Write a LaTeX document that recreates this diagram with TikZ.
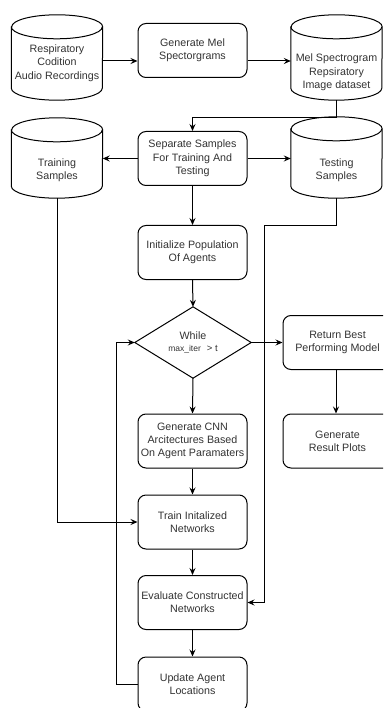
\documentclass[tikz,border=0pt]{standalone}
\usepackage{fontspec}
\setmainfont{Liberation Sans}
\usetikzlibrary{calc,arrows.meta}
\definecolor{txtc}{HTML}{333333}
\newcommand\drawcyl[1]{%
  \draw[line width=1pt, fill=white] ($(#1.north west)+(0,-12)$) -- ($(#1.south west)+(0,12)$)
    arc[start angle=180,end angle=360,x radius=45.5pt,y radius=12pt]
    -- ($(#1.north east)+(0,-12)$)
    arc[start angle=0,end angle=180,x radius=45.5pt,y radius=12pt] -- cycle;
  \draw[line width=1pt] ($(#1.north west)+(0,-12)$)
    arc[start angle=180,end angle=360,x radius=45.5pt,y radius=12pt];
}
\begin{document}
\begin{tikzpicture}[x=1pt,y=1pt,
  font=\fontsize{10.7}{13.3}\selectfont,
  box/.style={draw, line width=1pt, rounded corners=8pt, minimum width=109pt,
    minimum height=54pt, align=center, fill=white, text=txtc, inner sep=1pt},
  cylbody/.style={minimum width=91pt, inner sep=0pt, draw=none},
  lbl/.style={align=center, text=txtc, inner sep=0pt},
  conn/.style={line width=1pt, -{Stealth[length=7pt,width=6pt,inset=2.5pt]}}
]
\useasboundingbox (0,0) rectangle (383,-708);
\clip (0,0) rectangle (383,-708);

% top row
\node[cylbody, minimum height=85pt] (c1) at (57,-57.5) {};
\drawcyl{c1}
\node[lbl] (c1t) at (57,-63) {Respiratory\\Codition\\Audio Recordings};

\node[box] (gen) at (192.5,-50.5) {Generate Mel\\Spectorgrams};

\node[cylbody, minimum height=85pt] (c3) at (336.5,-57.5) {};
\drawcyl{c3}
\node[lbl] (c3t) at (336.5,-72.5) {Mel Spectrogram\\Repsiratory\\Image dataset};

% second row
\node[box] (sep) at (192.5,-158.5) {Separate Samples\\For Training And\\Testing};

\node[cylbody, minimum height=80pt] (tr) at (57,-158) {};
\drawcyl{tr}
\node[lbl] (trt) at (57,-170) {Training\\Samples};

\node[cylbody, minimum height=81pt] (te) at (336.5,-157.5) {};
\drawcyl{te}
\node[lbl] (tet) at (336.5,-170) {Testing\\Samples};

\node[box] (init) at (192.5,-252.5) {Initialize Population\\Of Agents};

% diamond
\node[lbl, minimum width=116pt, minimum height=71pt] (dia) at (193,-342.5)
  {While\\[-1pt]{\fontsize{8.5}{10}\selectfont max\_iter\hspace{6pt}{\fontsize{9.5}{10}\selectfont > t}}};
\draw[line width=1pt] (dia.north) -- (dia.east) -- (dia.south) -- (dia.west) -- cycle;

\node[box] (ret) at (337.5,-342.5) {Return Best\\Performing Model};
\node[box] (res) at (337.5,-441) {Generate\\Result Plots};

\node[box] (cnn) at (192.5,-441) {Generate CNN\\Arcitectures Based\\On Agent Paramaters};
\node[box] (train) at (192.5,-522) {Train Initalized\\Networks};
\node[box] (eval) at (192.5,-602.5) {Evaluate Constructed\\Networks};
\node[box] (upd) at (192.5,-684) {Update Agent\\Locations};

% connectors
\coordinate (a1) at (102,-61);
\draw[conn] (c1.east |- a1) -- (gen.west |- a1);
\draw[conn] (gen.east |- a1) -- (c3.west |- a1);
\draw[conn] (c3.south) -- ++(0,-17) -| (sep.north);
\draw[conn] (sep.west) -- (sep.west -| tr.east);
\draw[conn] (sep.east) -- (sep.east -| te.west);
\draw[conn] (sep.south) -- (init.north);
\draw[conn] (init.south) -- (dia.north);
\draw[conn] (dia.east) -- (ret.west);
\draw[conn] (ret.south -| 336,0) -- (res.north -| 336,0);
\draw[conn] (dia.south) -- (cnn.north);
\draw[conn] (cnn.south) -- (train.north);
\draw[conn] (train.south) -- (eval.north);
\draw[conn] (eval.south) -- (upd.north);
\draw[conn] (tr.south) |- (train.west);
\coordinate (tbend) at (264,-226);
\draw[conn] (te.south) |- (tbend) |- (eval.east);
\coordinate (lp) at (116,-684);
\draw[conn] (upd.west) -- (upd.west -| lp) |- (dia.west);
\end{tikzpicture}
\end{document}
